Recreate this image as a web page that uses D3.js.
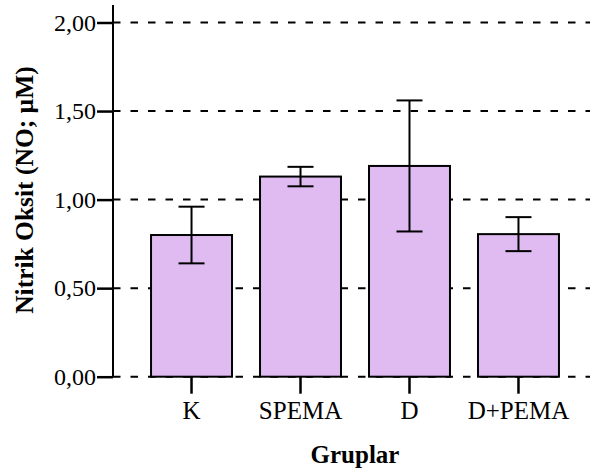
<!DOCTYPE html>
<html>
<head>
<meta charset="utf-8">
<script src="https://cdn.jsdelivr.net/npm/d3@7"></script>
<style>
  html, body { margin: 0; padding: 0; background: #fff; }
  svg { display: block; }
  text { font-family: "Liberation Serif", "Times New Roman", serif; fill: #000; }
</style>
</head>
<body>
<svg id="chart" width="590" height="475"></svg>
<script>
// Group names, means and error half-widths (NO, µM)
const groups = ["K", "SPEMA", "D", "D+PEMA"];
const means = [0.80, 1.13, 1.19, 0.805];
const errors = [0.16, 0.055, 0.37, 0.096];
const yTicks = [0, 0.5, 1.0, 1.5, 2.0];
const yTitle = "Nitrik Oksit (NO; µM)";
const xTitle = "Gruplar";

const svg = d3.select("#chart");
const plotLeft = 113, plotRight = 597, plotTop = 22.5, plotBottom = 376.7;

const x = d3.scaleBand()
  .domain(groups)
  .range([plotLeft, plotRight])
  .paddingInner(0.257)
  .paddingOuter(0.349);

const y = d3.scaleLinear().domain([0, 2]).range([plotBottom, plotTop]);
const fmt = d => d3.format(".2f")(d).replace(".", ",");

// dashed reference lines
svg.append("g")
  .selectAll("line")
  .data(yTicks)
  .join("line")
  .attr("x1", plotLeft).attr("x2", 590)
  .attr("y1", d => y(d)).attr("y2", d => y(d))
  .attr("stroke", "#000")
  .attr("stroke-width", 2)
  .attr("stroke-dasharray", "7.5,10");

// bars
svg.append("g")
  .selectAll("rect")
  .data(groups)
  .join("rect")
  .attr("x", d => x(d))
  .attr("width", x.bandwidth())
  .attr("y", (d, i) => y(means[i]))
  .attr("height", (d, i) => y(0) - y(means[i]))
  .attr("fill", "#dfbbf2")
  .attr("stroke", "#000")
  .attr("stroke-width", 2);

// error bars
const eb = svg.append("g").attr("stroke", "#000").attr("stroke-width", 2);
const cap = 13;
groups.forEach((g, i) => {
  const cx = x(g) + x.bandwidth() / 2;
  const hi = y(means[i] + errors[i]);
  const lo = y(means[i] - errors[i]);
  eb.append("line").attr("x1", cx).attr("x2", cx).attr("y1", hi).attr("y2", lo);
  eb.append("line").attr("x1", cx - cap).attr("x2", cx + cap).attr("y1", hi).attr("y2", hi);
  eb.append("line").attr("x1", cx - cap).attr("x2", cx + cap).attr("y1", lo).attr("y2", lo);
});

// y axis
const yAxis = svg.append("g")
  .attr("transform", `translate(${plotLeft},0)`)
  .call(d3.axisLeft(y).tickValues(yTicks).tickFormat(fmt).tickSize(16).tickPadding(1));
yAxis.select(".domain").remove();
yAxis.selectAll("line").attr("stroke-width", 2.5);
yAxis.selectAll("text").attr("font-size", 24).attr("font-family", "Liberation Serif");
svg.append("line")
  .attr("x1", plotLeft).attr("x2", plotLeft)
  .attr("y1", 5).attr("y2", plotBottom)
  .attr("stroke", "#000").attr("stroke-width", 2);

// x axis
const xAxis = svg.append("g")
  .attr("transform", `translate(0,${plotBottom})`)
  .call(d3.axisBottom(x).tickSize(17).tickPadding(8));
xAxis.select(".domain").remove();
xAxis.selectAll("line").attr("stroke-width", 2.5);
xAxis.selectAll("text").attr("font-size", 25).attr("font-family", "Liberation Serif");

// axis titles
svg.append("text")
  .attr("x", (plotLeft + plotRight) / 2)
  .attr("y", 463)
  .attr("text-anchor", "middle")
  .attr("font-size", 25)
  .attr("font-weight", "bold")
  .text(xTitle);

svg.append("text")
  .attr("transform", "translate(33,190) rotate(-90)")
  .attr("text-anchor", "middle")
  .attr("font-size", 25.5)
  .attr("font-weight", "bold")
  .text(yTitle);
</script>
</body>
</html>
